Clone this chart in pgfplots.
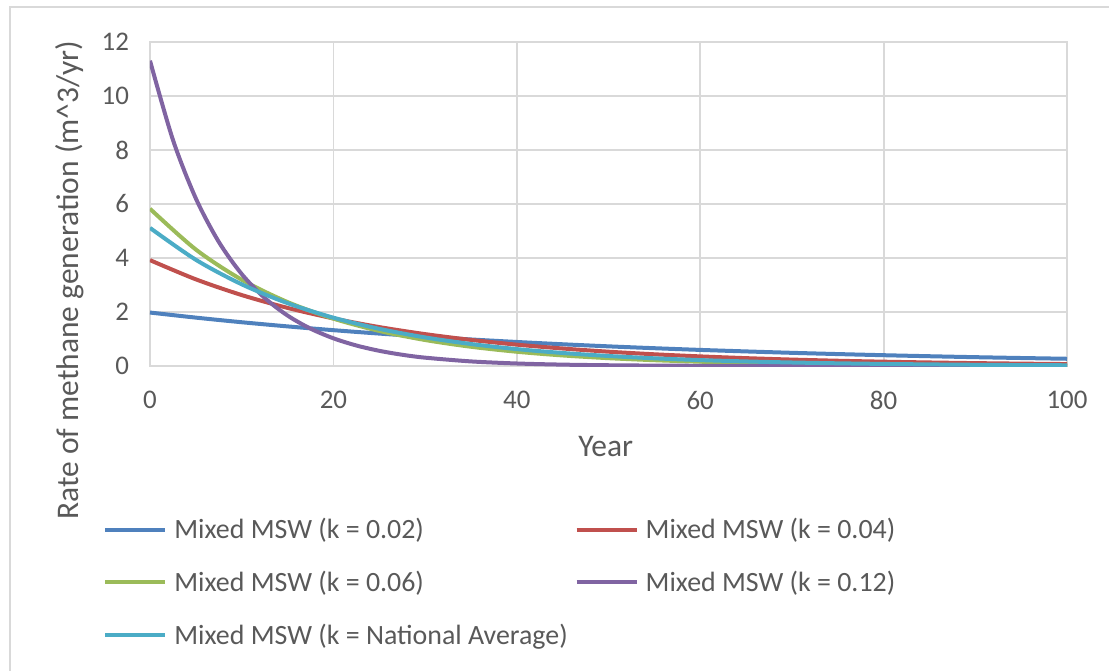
\documentclass[border=0pt]{standalone}
\usepackage{pgfplots}
\pgfplotsset{compat=1.18}
\usepackage{fontspec}
\setmainfont{Carlito}

\definecolor{xlblue}{HTML}{4F81BD}
\definecolor{xlred}{HTML}{C0504D}
\definecolor{xlgreen}{HTML}{9BBB59}
\definecolor{xlpurple}{HTML}{8064A2}
\definecolor{xlaqua}{HTML}{4BACC6}
\definecolor{xltext}{HTML}{595959}
\definecolor{xlgrid}{HTML}{D9D9D9}

\begin{document}
\begin{tikzpicture}
\useasboundingbox (-75bp,-152.5bp) rectangle (479.5bp,183bp);
% chart area border (cropped at right and bottom)
\draw[xlgrid, line width=0.9bp] (-70bp,-160bp) -- (-70bp,179.5bp) -- (490bp,179.5bp);
\begin{axis}[
  at={(0,0)}, anchor=south west,
  scale only axis,
  width=458.5bp, height=162bp,
  xmin=0, xmax=100, ymin=0, ymax=12,
  xtick={0,20,...,100}, ytick={0,2,...,12},
  major tick length=0pt,
  grid=major,
  major grid style={xlgrid, line width=0.9bp},
  axis line style={xlgrid, line width=0.9bp},
  tick label style={font=\fontsize{13.5}{15}\selectfont, text=xltext},
  /pgf/number format/assume math mode=true,
  xticklabel style={yshift=-9bp},
  yticklabel style={xshift=-7bp},
  xlabel={Year},
  ylabel={Rate of methane generation (m\textasciicircum3/yr)},
  label style={font=\fontsize{15.8}{18}\selectfont, text=xltext},
  xlabel style={at={(axis description cs:0.497,-0.25)}, anchor=center},
  ylabel style={at={(axis description cs:-0.0872,0.265)}, anchor=center},
  legend columns=2,
  legend cell align=left,
  legend style={
    at={(axis description cs:-0.0578,-0.455)}, anchor=north west,
    draw=none, fill=none,
    font=\fontsize{14}{16}\selectfont, text=xltext,
    nodes={inner sep=0pt},
    column sep=3.5bp, row sep=14.75bp,
  },
  legend image code/.code={\draw[#1, line width=2bp] (0bp,0bp) -- (30bp,0bp);},
  every axis plot/.append style={line width=2bp, smooth, no markers},
]
\addplot[xlblue] coordinates {
(0,1.980) (5,1.792) (10,1.621) (15,1.467) (20,1.327) (25,1.201) (30,1.087)
(35,0.983) (40,0.890) (45,0.805) (50,0.728) (55,0.659) (60,0.596) (65,0.540)
(70,0.488) (75,0.442) (80,0.400) (85,0.362) (90,0.327) (95,0.296) (100,0.268)
};
\addlegendentry{Mixed MSW (k = 0.02)}
\addplot[xlred] coordinates {
(0,3.921) (5,3.210) (10,2.628) (15,2.152) (20,1.762) (25,1.442) (30,1.181)
(35,0.967) (40,0.791) (45,0.648) (50,0.530) (55,0.434) (60,0.356) (65,0.291)
(70,0.238) (75,0.195) (80,0.160) (85,0.131) (90,0.107) (95,0.088) (100,0.072)
};
\addlegendentry{Mixed MSW (k = 0.04)}
\addplot[xlgreen] coordinates {
(0,5.824) (5,4.314) (10,3.196) (15,2.368) (20,1.754) (25,1.299) (30,0.963)
(35,0.713) (40,0.528) (45,0.391) (50,0.290) (55,0.215) (60,0.159) (65,0.118)
(70,0.087) (75,0.065) (80,0.048) (85,0.036) (90,0.026) (95,0.019) (100,0.014)
};
\addlegendentry{Mixed MSW (k = 0.06)}
\addplot[xlpurple] coordinates {
(0,11.308) (2.5,8.377) (5,6.206) (7.5,4.598) (10,3.406) (12.5,2.523) (15,1.869)
(17.5,1.385) (20,1.026) (22.5,0.760) (25,0.563) (27.5,0.417) (30,0.309)
(35,0.170) (40,0.093) (45,0.051) (50,0.028) (55,0.015) (60,0.008) (65,0.005)
(70,0.003) (75,0.001) (80,0.001) (85,0.000) (90,0.000) (95,0.000) (100,0.000)
};
\addlegendentry{Mixed MSW (k = 0.12)}
\addplot[xlaqua] coordinates {
(0,5.115) (5,3.934) (10,3.026) (15,2.327) (20,1.790) (25,1.377) (30,1.059)
(35,0.814) (40,0.626) (45,0.482) (50,0.371) (55,0.285) (60,0.219) (65,0.169)
(70,0.130) (75,0.100) (80,0.077) (85,0.059) (90,0.045) (95,0.035) (100,0.027)
};
\addlegendentry{Mixed MSW (k = National Average)}
\end{axis}
\end{tikzpicture}
\end{document}
